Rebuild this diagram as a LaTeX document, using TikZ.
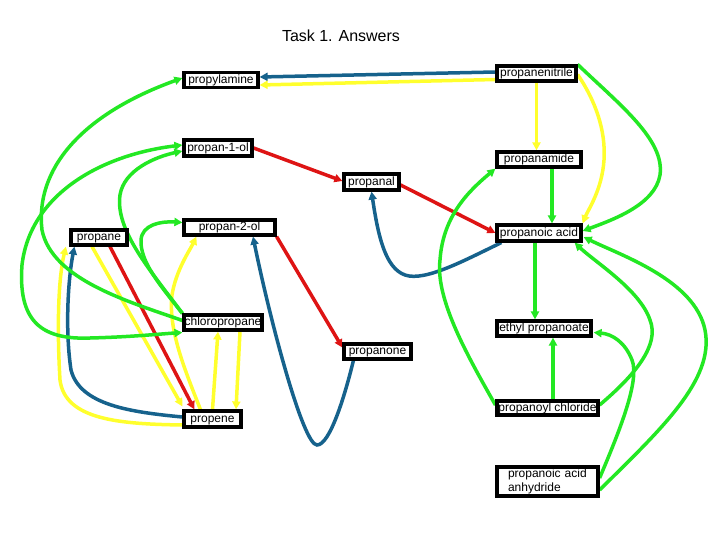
\documentclass[tikz,border=0pt]{standalone}
\usepackage{fontspec}
\setmainfont{Liberation Sans}
\usetikzlibrary{arrows.meta,calc,backgrounds}
\definecolor{cgreen}{RGB}{35,232,35}
\definecolor{cyellow}{RGB}{255,255,45}
\definecolor{cblue}{RGB}{22,98,140}
\definecolor{cred}{RGB}{222,20,20}
\begin{document}
\begin{tikzpicture}[x=1pt,y=-1pt,
  box/.style={draw=black,line width=3.2pt,fill=white,inner sep=0pt,text height=9pt,text depth=2.5pt,font=\fontsize{12}{14}\selectfont},
  con/.style={line width=3.5pt,-{Triangle[length=8pt,width=8pt]}},
  con2/.style={line width=3.5pt,{Triangle[length=8pt,width=8pt]}-{Triangle[length=8pt,width=8pt]}}]
\useasboundingbox (0,0) rectangle (720,540);
\node[font=\fontsize{16}{19}\selectfont] (title) at (341,36) {Task 1. Answers};
\node[box,minimum width=74pt,minimum height=15pt] (amine) at (221,80) {propylamine};
\node[box,minimum width=79pt,minimum height=15pt] (nitrile) at (536.5,73.5) {propanenitrile};
\node[box,minimum width=68pt,minimum height=16pt] (ol1) at (218,148) {propan-1-ol};
\node[box,minimum width=84pt,minimum height=15pt] (amide) at (539,159.5) {propanamide};
\node[box,minimum width=55pt,minimum height=16pt] (al) at (371.5,182) {propanal};
\node[box,minimum width=56pt,minimum height=15pt] (ane) at (99,237.5) {propane};
\node[box,minimum width=91pt,minimum height=15pt,text depth=4pt] (ol2) at (229.5,227.5) {propan-2-ol};
\node[box,minimum width=84pt,minimum height=16pt] (acid) at (539,233) {propanoic acid};
\node[box,minimum width=78pt,minimum height=15pt] (chloro) at (223,322.5) {chloropropane};
\node[box,minimum width=94pt,minimum height=15pt] (ester) at (544,328.5) {ethyl propanoate};
\node[box,minimum width=67pt,minimum height=15pt] (one) at (377.5,351.5) {propanone};
\node[box,minimum width=57pt,minimum height=16pt] (ene) at (212.5,419) {propene};
\node[box,minimum width=101pt,minimum height=14pt] (acl) at (547.5,408) {propanoyl chloride};
\node[box,minimum width=101pt,minimum height=29pt,text height=,text depth=,text width=79pt,inner xsep=11pt,align=left] (anh) at (547.5,481.5) {propanoic acid\\anhydride};
\begin{scope}[on background layer]
\fill[white] (0,0) rectangle (720,540);
% top
\draw[con,cblue] ($(nitrile.west)+(0,-1.5)$) -- ($(amine.east)+(0,-3)$);
\draw[con,cyellow] ($(nitrile.west)+(0,6)$) -- ($(amine.east)+(0,5)$);
\draw[con,cyellow] (nitrile.south) -- ($(amide.north)+(-2.5,0)$);
\draw[con,cgreen] ($(amide.south)+(13,0)$) -- ($(acid.north)+(13,0)$);
\draw[con,cyellow] ($(nitrile.east)+(0,1)$) .. controls (595,100) and (606,130) .. (604,160) .. controls (602,190) and (588,210) .. (acid.north east);
\draw[con,cgreen] (nitrile.north east) .. controls (620,105) and (665,140) .. (660,175) .. controls (655,205) and (612,220) .. ($(acid.east)+(0,-2)$);
\draw[con,cred] (ol1.east) -- ($(al.west)+(0,-1)$);
\draw[con,cred] ($(al.east)+(0,3)$) -- (acid.west);
\draw[con,cblue] ($(acid.south west)+(6,0)$) .. controls (465,260) and (425,282) .. (405,275) .. controls (385,268) and (378,235) .. (al.south);
% right side
\draw[con,cgreen] ($(acl.west)+(0,-3)$) .. controls (470,360) and (435,300) .. (440,260) .. controls (443,215) and (470,190) .. (amide.south west);
\draw[con,cgreen] ($(acid.south)+(-4,0)$) -- ($(ester.north)+(-9,0)$);
\draw[con,cgreen] ($(acl.north)+(5.5,0)$) -- ($(ester.south)+(9,0)$);
\draw[con,cgreen] ($(acl.east)+(0,-3)$) .. controls (635,375) and (660,345) .. (650,320) .. controls (640,290) and (595,262) .. ($(acid.south east)+(-8,0)$);
\draw[con,cgreen] ($(anh.east)+(0,-3.5)$) .. controls (620,430) and (640,380) .. (632,360) .. controls (625,342) and (612,334) .. ($(ester.east)+(1,4)$);
\draw[con,cgreen] ($(anh.east)+(0,8.5)$) .. controls (660,430) and (715,380) .. (705,330) .. controls (695,280) and (620,255) .. ($(acid.east)+(1,4)$);
% middle
\draw[con,cred] (ol2.south east) -- ($(one.west)+(0,-4)$);
\draw[con,cblue] ($(one.south west)+(11,0)$) .. controls (345,395) and (330,445) .. (317,445) .. controls (303,445) and (270,320) .. ($(ol2.south)+(23.5,0)$);
% left
\draw[con,cred] ($(ane.south)+(11,0)$) -- ($(ene.north west)+(12,0)$);
\draw[con,cyellow] ($(ane.south)+(-7,0)$) -- ($(ene.north west)+(0,-3)$);
\draw[con,cblue] ($(ene.west)+(0,-2)$) .. controls (130,412) and (80,405) .. (71,370) .. controls (65,330) and (68,280) .. ($(ane.south west)+(5,0)$);
\draw[con,cyellow] ($(ene.west)+(0,6)$) .. controls (120,424) and (65,420) .. (60,380) .. controls (57,330) and (58,280) .. ($(ane.south west)+(-3.5,0)$);
\draw[con,cyellow] ($(ene.north west)+(18,0)$) .. controls (185,370) and (168,330) .. (172,295) .. controls (176,270) and (190,250) .. ($(ol2.south west)+(14,0)$);
\draw[con,cyellow] (ene.north) -- ($(chloro.south)+(-5,0)$);
\draw[con,cyellow] ($(chloro.south)+(17,0)$) -- ($(ene.north)+(23.5,0)$);
\draw[con,cgreen] ($(chloro.west)+(0,-2)$) .. controls (130,302) and (52,280) .. (42,230) .. controls (35,170) and (80,115) .. ($(amine.west)+(0,-2)$);
\draw[con2,cgreen] ($(ol1.west)+(0,-3)$) .. controls (100,155) and (30,195) .. (22,265) .. controls (18,320) and (40,340) .. (90,338) .. controls (130,337) and (160,334) .. ($(chloro.west)+(0,10)$);
\draw[con,cgreen] (chloro.north west) .. controls (150,270) and (115,230) .. (120,195) .. controls (124,170) and (155,157) .. ($(ol1.west)+(0,3)$);
\draw[con,cgreen] (chloro.north west) .. controls (160,285) and (140,262) .. (141,240) .. controls (142,225) and (160,221) .. ($(ol2.west)+(0,-5)$);
\end{scope}
\end{tikzpicture}
\end{document}
